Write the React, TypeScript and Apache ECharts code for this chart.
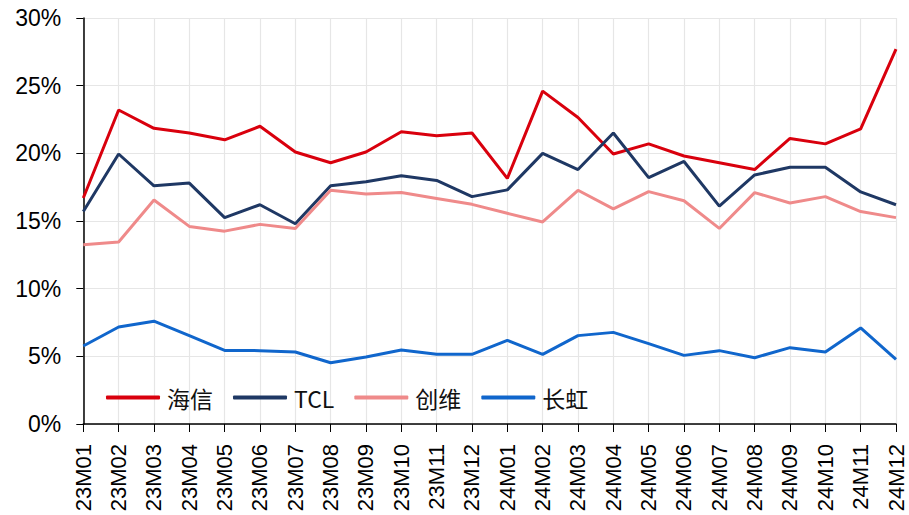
import React, { useEffect, useRef } from "react";
import * as echarts from "echarts";

const categories = [
  "23M01", "23M02", "23M03", "23M04", "23M05", "23M06", "23M07", "23M08", "23M09", "23M10", "23M11", "23M12",
  "24M01", "24M02", "24M03", "24M04", "24M05", "24M06", "24M07", "24M08", "24M09", "24M10", "24M11", "24M12",
];

const hisense = [16.7, 23.2, 21.85, 21.5, 21.0, 22.0, 20.1, 19.3, 20.1, 21.6, 21.3, 21.5,
  18.15, 24.6, 22.65, 19.95, 20.7, 19.8, 19.3, 18.8, 21.1, 20.7, 21.8, 27.7];
const tcl = [15.7, 19.95, 17.6, 17.8, 15.25, 16.2, 14.8, 17.6, 17.9, 18.35, 18.0, 16.8,
  17.3, 20.0, 18.8, 21.5, 18.2, 19.4, 16.1, 18.4, 18.97, 18.97, 17.15, 16.2];
const skyworth = [13.25, 13.45, 16.55, 14.6, 14.25, 14.75, 14.45, 17.27, 17.0, 17.1, 16.67, 16.23,
  15.57, 14.93, 17.27, 15.9, 17.17, 16.5, 14.45, 17.1, 16.33, 16.8, 15.7, 15.25];
const changhong = [5.76, 7.17, 7.6, 6.53, 5.44, 5.42, 5.32, 4.53, 4.95, 5.47, 5.15, 5.15,
  6.18, 5.15, 6.53, 6.77, 5.94, 5.07, 5.42, 4.9, 5.64, 5.32, 7.1, 4.78];

const seriesNames = ["海信", "TCL", "创维", "长虹"];
const seriesColors = ["#D9000D", "#1F3864", "#EF8A8A", "#1066CC"];
const seriesData = [hisense, tcl, skyworth, changhong];
const yTicks = [0, 5, 10, 15, 20, 25, 30];

export default function App() {
  const ref = useRef<HTMLDivElement>(null);
  useEffect(() => {
    if (!ref.current) return;
    const chart = echarts.init(ref.current, null, { renderer: "svg" });
    chart.setOption({
      animation: false,
      backgroundColor: "#ffffff",
      grid: { left: 83.3, right: 13, top: 18, bottom: 91, containLabel: false },
      legend: {
        left: 101,
        top: 381,
        itemWidth: 54,
        itemHeight: 4,
        itemGap: 20,
        icon: "roundRect",
        textStyle: {
          fontSize: 23,
          color: "#111",
          fontFamily: "'Noto Sans CJK SC', 'Liberation Sans', sans-serif",
          padding: [0, 0, 0, 2],
        },
        data: seriesNames,
      },
      xAxis: {
        type: "category",
        data: categories,
        boundaryGap: false,
        axisLine: { lineStyle: { color: "#000", width: 1.5 } },
        axisTick: { show: true, length: 8, lineStyle: { color: "#000" }, alignWithLabel: true },
        axisLabel: {
          rotate: 90,
          interval: 0,
          fontSize: 22,
          color: "#000",
          fontFamily: "'Liberation Sans', Arial, sans-serif",
          margin: 20,
        },
        splitLine: { show: true, lineStyle: { color: "#e6e6e6", width: 1.2 } },
      },
      yAxis: {
        type: "value",
        min: yTicks[0],
        max: yTicks[yTicks.length - 1],
        interval: 5,
        axisLine: { show: true, lineStyle: { color: "#000", width: 1.5 } },
        axisTick: { show: true, length: 7, lineStyle: { color: "#000" } },
        axisLabel: {
          formatter: (v: number) => `${v}%`,
          fontSize: 23,
          color: "#000",
          fontFamily: "'Liberation Sans', Arial, sans-serif",
          margin: 22,
        },
        splitLine: { show: true, lineStyle: { color: "#e6e6e6", width: 1.2 } },
      },
      series: seriesNames.map((name, i) => ({
        name,
        type: "line",
        data: seriesData[i],
        symbol: "none",
        lineStyle: { color: seriesColors[i], width: 3 },
        itemStyle: { color: seriesColors[i] },
      })),
    });
    return () => chart.dispose();
  }, []);
  return <div ref={ref} style={{ width: 909, height: 515, position: "absolute", left: 0, top: 0 }} />;
}
